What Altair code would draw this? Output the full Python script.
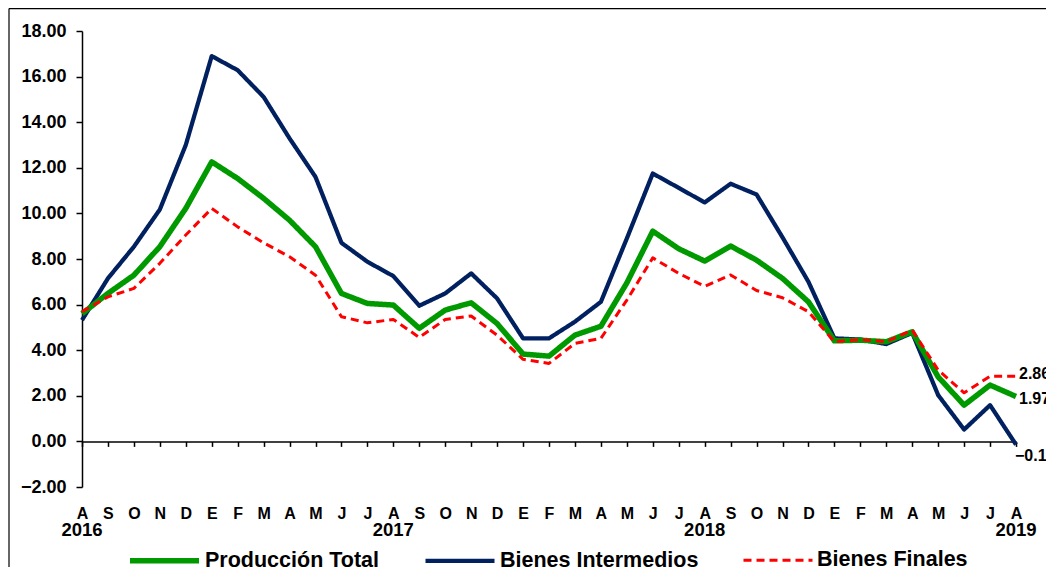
import altair as alt
import pandas as pd

months = ["A", "S", "O", "N", "D", "E", "F", "M", "A", "M", "J", "J",
          "A", "S", "O", "N", "D", "E", "F", "M", "A", "M", "J", "J",
          "A", "S", "O", "N", "D", "E", "F", "M", "A", "M", "J", "J", "A"]
year_pos = [0, 12, 24, 36]
year_labels = ["2016", "2017", "2018", "2019"]

produccion_total = [5.60, 6.49, 7.29, 8.54, 10.22, 12.26, 11.53, 10.66, 9.70, 8.54, 6.49, 6.05,
                    5.98, 4.96, 5.76, 6.08, 5.17, 3.83, 3.74, 4.66, 5.05, 6.95, 9.22, 8.45,
                    7.91, 8.57, 7.95, 7.15, 6.12, 4.41, 4.44, 4.37, 4.81, 2.83, 1.59, 2.47, 1.97]
bienes_intermedios = [5.32, 7.15, 8.54, 10.17, 13.00, 16.90, 16.28, 15.11, 13.29, 11.60, 8.71, 7.88,
                      7.25, 5.95, 6.49, 7.37, 6.27, 4.52, 4.52, 5.25, 6.12, 8.90, 11.75, 11.12,
                      10.48, 11.30, 10.83, 8.95, 7.00, 4.52, 4.47, 4.27, 4.76, 2.03, 0.52, 1.59, -0.14]
bienes_finales = [5.69, 6.34, 6.71, 7.81, 9.05, 10.22, 9.41, 8.71, 8.10, 7.29, 5.47, 5.20,
                  5.35, 4.56, 5.35, 5.50, 4.66, 3.60, 3.42, 4.30, 4.52, 6.20, 8.05, 7.37,
                  6.80, 7.30, 6.62, 6.30, 5.69, 4.37, 4.47, 4.37, 4.88, 3.13, 2.13, 2.86, 2.86]

series_names = ["Producción Total", "Bienes Intermedios", "Bienes Finales"]
series_values = [produccion_total, bienes_intermedios, bienes_finales]
colors = ["#009900", "#002060", "#FF0000"]

rows = []
for name, vals in zip(series_names, series_values):
    for i, v in enumerate(vals):
        rows.append({"i": i, "serie": name, "valor": v})
df = pd.DataFrame(rows)

last_rows = pd.DataFrame([{"i": len(v) - 1, "serie": n, "valor": v[-1]}
                          for n, v in zip(series_names, series_values)])
years_df = pd.DataFrame({"i": year_pos, "label": year_labels})

W, H = 934, 456
FONT = "Arial, Liberation Sans, sans-serif"

months_js = "[" + ",".join("'%s'" % m for m in months) + "]"

x_enc = alt.X(
    "i:Q",
    scale=alt.Scale(domain=[0, len(months) - 1], nice=False, zero=False),
    axis=alt.Axis(
        values=list(range(len(months))),
        labelExpr=months_js + "[datum.value]",
        title=None, grid=False, offset=-H / 10,
        tickSize=5, labelPadding=59, domainColor="black", tickColor="black",
        domainWidth=1.5, tickWidth=1.5,
        labelFontSize=16, labelFontWeight="bold", labelFont=FONT, labelColor="black",
        labelFlush=False, labelOverlap=False, labelBound=False, labelAngle=0,
    ),
)
y_enc = alt.Y(
    "valor:Q",
    scale=alt.Scale(domain=[-2, 18], nice=False, zero=False),
    axis=alt.Axis(
        values=list(range(-2, 19, 2)), format=".2f", title=None, grid=False,
        tickSize=6, labelPadding=10, domainColor="black", tickColor="black",
        domainWidth=1.5, tickWidth=1.5,
        labelFontSize=18, labelFontWeight="bold", labelFont=FONT, labelColor="black",
    ),
)

legend = alt.Legend(
    title=None, orient="none", legendX=45, legendY=492, direction="horizontal",
    symbolType="stroke", symbolSize=4761, labelFontSize=21.5, labelFontWeight="bold",
    labelFont=FONT, labelColor="black", labelOffset=3, columnPadding=38, labelLimit=400,
)
color_enc = alt.Color("serie:N", scale=alt.Scale(domain=series_names, range=colors), legend=legend)
dash_enc = alt.StrokeDash("serie:N", scale=alt.Scale(domain=series_names, range=[[1, 0], [1, 0], [8, 5]]), legend=legend)
width_enc = alt.StrokeWidth("serie:N", scale=alt.Scale(domain=series_names, range=[5.5, 3, 3]), legend=legend)

base = alt.Chart(df)

layers = []
for name in ["Bienes Intermedios", "Producción Total", "Bienes Finales"]:
    layers.append(
        base.transform_filter(alt.datum.serie == name)
        .mark_line(strokeJoin="round", strokeCap="butt")
        .encode(x=x_enc, y=y_enc, color=color_enc, strokeDash=dash_enc, strokeWidth=width_enc)
    )

end_base = alt.Chart(last_rows)
end_offsets = {"Bienes Finales": (3, -2), "Producción Total": (3, 3), "Bienes Intermedios": (-1, 11)}
for name, (dx, dy) in end_offsets.items():
    layers.append(
        end_base.transform_filter(alt.datum.serie == name)
        .mark_text(align="left", baseline="middle", dx=dx, dy=dy, fontSize=16,
                   fontWeight="bold", font=FONT, color="black")
        .encode(x=x_enc, y=y_enc, text=alt.Text("valor:Q", format=".2f"))
    )

years = alt.Chart(years_df).mark_text(
    align="center", baseline="middle", fontSize=18.5, fontWeight="bold", font=FONT, color="black"
).encode(x=x_enc, y=alt.value(H + 43), text="label:N")
layers.append(years)

frame_left = alt.Chart(years_df.head(1)).mark_rule(color="#333333", strokeWidth=1.5).encode(
    x=alt.value(-73), y=alt.value(-22.5), y2=alt.value(H + 80))
frame_top = alt.Chart(years_df.head(1)).mark_rule(color="black", strokeWidth=1.5).encode(
    x=alt.value(-73), x2=alt.value(W + 30), y=alt.value(-22.5))
layers += [frame_left, frame_top]

chart = alt.layer(*layers).properties(
    width=W, height=H,
    autosize=alt.AutoSizeParams(type="none"),
    padding={"left": 74, "top": 23, "right": 30, "bottom": 80},
    background="white",
).configure_view(stroke=None)

chart.save("out.html", embed_options={"renderer": "svg", "actions": False})
